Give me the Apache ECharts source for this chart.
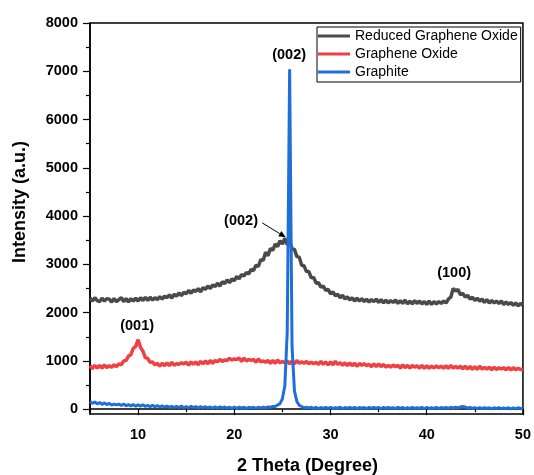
<!DOCTYPE html>
<html><head><meta charset="utf-8">
<script src="https://cdn.jsdelivr.net/npm/echarts@6/dist/echarts.min.js"></script>
<style>html,body{margin:0;padding:0;background:#fff}#c{width:534px;height:475px}</style>
</head><body><div id="c"></div>
<script>
// 2θ sampling: 5.00 to 50.00 in 0.25° steps
const thetaStart = 5, thetaStep = 0.25;

const seriesNames = ['Reduced Graphene Oxide', 'Graphene Oxide', 'Graphite'];

const rgo = [
  2300,2240,2310,2250, 2230,2300,2240,2290, 2280,2220,2290,2230, 2270,2310,2230,2290,
  2220,2290,2240,2300, 2240,2310,2250,2320, 2250,2320,2260,2310, 2270,2330,2280,2340,
  2310,2370,2300,2380, 2340,2410,2350,2420, 2390,2460,2400,2470, 2440,2500,2430,2520,
  2480,2550,2500,2570, 2540,2610,2550,2640, 2600,2680,2620,2700, 2660,2750,2700,2790,
  2760,2830,2800,2900, 2870,2980,2960,3100, 3080,3250,3180,3330, 3290,3420,3370,3490,
  3420,3540,3410,3500, 3320,3310,3160,3150, 2980,2970,2850,2850, 2720,2730,2610,2620,
  2530,2550,2460,2480, 2390,2430,2350,2380, 2310,2360,2280,2330, 2260,2310,2240,2300,
  2240,2290,2230,2280, 2220,2270,2230,2280, 2210,2270,2200,2260, 2200,2250,2210,2260,
  2190,2250,2190,2260, 2180,2240,2180,2250, 2190,2240,2180,2230, 2170,2240,2170,2230,
  2180,2230,2190,2240, 2200,2280,2320,2500, 2450,2480,2370,2400, 2320,2360,2280,2320,
  2250,2300,2240,2280, 2210,2270,2200,2250, 2200,2240,2190,2240, 2170,2220,2170,2210,
  2150,2200,2140,2190, 2150
];

const go = [
  900,840,910,850, 910,850,920,860, 900,870,920,880, 940,920,1000,1010,
  1100,1130,1260,1300, 1440,1280,1200,1070, 1050,970,980,920, 950,890,950,900,
  960,900,970,910, 940,930,960,940, 970,910,980,930, 980,920,990,940,
  1000,940,1010,950, 1010,980,1030,990, 1020,1010,1050,1020, 1040,1030,1060,990,
  1060,1000,1030,1010, 1030,970,1040,980, 1000,970,1010,950, 1010,950,1020,960,
  990,960,1000,940, 1000,940,1010,950, 980,950,990,940, 970,940,970,930,
  990,930,980,920, 980,920,990,930, 960,910,960,900, 960,900,950,890,
  945,910,940,900, 930,880,940,880, 940,880,930,870, 910,870,915,880,
  910,850,920,860, 910,850,905,870, 900,850,910,845, 900,850,890,855,
  895,860,890,850, 900,845,905,850, 885,850,890,835, 890,830,885,825,
  880,825,890,830, 865,830,870,815, 870,820,860,830, 860,815,865,810,
  860,815,850,820, 830
];

const graphite = [
  160,120,150,110, 140,100,130,95, 120,85,105,90, 105,75,110,70,
  95,65,95,60, 90,60,90,55, 80,50,80,45, 75,45,70,40,
  65,40,60,35, 60,35,65,30, 55,30,60,35, 55,25,55,30,
  50,25,45,20, 50,20,50,25, 45,20,40,15, 45,15,45,20,
  40,15,40,25, 40,15,40,20, 40,25,45,40, 55,55,85,115,
  220,480,1600,7040, 1300,380,160,80, 55,30,40,20, 40,15,40,10,
  35,15,40,15, 35,15,30,20, 40,10,35,15, 35,15,40,10,
  35,20,35,10, 40,15,35,15, 35,10,40,15, 35,15,30,10,
  40,15,35,10, 35,10,40,15, 30,15,40,10, 35,15,30,10,
  40,10,35,15, 35,15,40,20, 40,25,45,55, 45,20,35,15,
  30,10,35,10, 30,15,30,5, 30,10,35,10, 25,10,30,5,
  30,5,30,10, 20
];

const seriesColors = ['#4a4a4a', '#ef4044', '#1f6fd8'];
const seriesWidths = [3.5, 3.5, 3];

const xMajorTicks = [10, 20, 30, 40, 50];
const xMinorTicks = [5, 15, 25, 35, 45];
const yMajorTicks = [0, 1000, 2000, 3000, 4000, 5000, 6000, 7000, 8000];
const yMinorTicks = [500, 1500, 2500, 3500, 4500, 5500, 6500, 7500];

const annotations = [
  { text: '(002)', x: 25.7, y: 7330 },
  { text: '(002)', x: 20.7, y: 3900 },
  { text: '(001)', x: 9.9, y: 1720 },
  { text: '(100)', x: 42.85, y: 2820 }
];
const arrowFrom = [22.9, 3860], arrowTo = [25.35, 3560];

const toPairs = arr => arr.map((v, i) => [thetaStart + i * thetaStep, v]);
const allData = [rgo, go, graphite];

const chart = echarts.init(document.getElementById('c'), null, { renderer: 'canvas' });
const FONT = 'Liberation Sans, Arial, sans-serif';

const xCommon = { type: 'value', min: 5, max: 50, position: 'bottom', splitLine: { show: false } };
const yCommon = { type: 'value', min: -100, max: 8000, position: 'left', splitLine: { show: false } };

chart.setOption({
  animation: false,
  backgroundColor: '#fff',
  grid: { left: 90, right: 9, top: 23, bottom: 61, show: true, borderColor: '#000', borderWidth: 1.5, backgroundColor: 'transparent' },
  xAxis: [
    Object.assign({}, xCommon, {
      axisLine: { show: true, lineStyle: { color: '#000', width: 1.5 } },
      axisTick: { show: true, inside: false, length: 6, lineStyle: { color: '#000', width: 1.2 }, customValues: xMajorTicks },
      axisLabel: { show: true, margin: 13, color: '#000', fontFamily: FONT, fontWeight: 'bold', fontSize: 14.5, customValues: xMajorTicks, formatter: v => String(v) }
    }),
    Object.assign({}, xCommon, {
      axisLine: { show: false },
      axisTick: { show: true, inside: false, length: 3, lineStyle: { color: '#000', width: 1.2 }, customValues: xMinorTicks },
      axisLabel: { show: false }
    })
  ],
  yAxis: [
    Object.assign({}, yCommon, {
      axisLine: { show: true, lineStyle: { color: '#000', width: 1.5 } },
      axisTick: { show: true, inside: false, length: 7, lineStyle: { color: '#000', width: 1.2 }, customValues: yMajorTicks },
      axisLabel: { show: true, margin: 12, color: '#000', fontFamily: FONT, fontWeight: 'bold', fontSize: 14.5, customValues: yMajorTicks, formatter: v => String(v) }
    }),
    Object.assign({}, yCommon, {
      axisLine: { show: false },
      axisTick: { show: true, inside: false, length: 4, lineStyle: { color: '#000', width: 1.2 }, customValues: yMinorTicks },
      axisLabel: { show: false }
    })
  ],
  legend: {
    orient: 'vertical', left: 317, top: 27,
    padding: [2, 3, 3, 1], itemGap: 4,
    itemWidth: 32, itemHeight: 3, icon: 'rect',
    borderColor: '#000', borderWidth: 1, backgroundColor: '#fff',
    textStyle: { fontFamily: FONT, fontSize: 14, color: '#000' },
    data: seriesNames
  },
  series: seriesNames.map((name, k) => ({
    name, type: 'line', xAxisIndex: 0, yAxisIndex: 0,
    data: toPairs(allData[k]),
    showSymbol: false, symbol: 'none',
    lineStyle: { color: seriesColors[k], width: seriesWidths[k] },
    itemStyle: { color: seriesColors[k] },
    z: 2 + k
  }))
});

function drawGraphics() {
  const els = annotations.map(a => {
    const p = chart.convertToPixel({ xAxisIndex: 0, yAxisIndex: 0 }, [a.x, a.y]);
    return { type: 'text', x: p[0], y: p[1], z: 100,
      style: { text: a.text, fontFamily: FONT, fontWeight: 'bold', fontSize: 14.5, fill: '#000', align: 'center', verticalAlign: 'middle' } };
  });
  const p1 = chart.convertToPixel({ xAxisIndex: 0, yAxisIndex: 0 }, arrowFrom);
  const p2 = chart.convertToPixel({ xAxisIndex: 0, yAxisIndex: 0 }, arrowTo);
  const ang = Math.atan2(p2[1] - p1[1], p2[0] - p1[0]);
  const hl = 7, hw = 3;
  const bx = p2[0] - hl * Math.cos(ang), by = p2[1] - hl * Math.sin(ang);
  els.push({ type: 'line', z: 100, shape: { x1: p1[0], y1: p1[1], x2: bx, y2: by }, style: { stroke: '#000', lineWidth: 1 } });
  els.push({ type: 'polygon', z: 100, shape: { points: [
    [p2[0], p2[1]],
    [bx + hw * Math.sin(ang), by - hw * Math.cos(ang)],
    [bx - hw * Math.sin(ang), by + hw * Math.cos(ang)]
  ] }, style: { fill: '#000' } });
  els.push({ type: 'text', x: 307.5, y: 466, z: 100,
    style: { text: '2 Theta (Degree)', fontFamily: FONT, fontWeight: 'bold', fontSize: 18, fill: '#000', align: 'center', verticalAlign: 'middle' } });
  els.push({ type: 'text', x: 20, y: 202, rotation: Math.PI / 2, z: 100,
    style: { text: 'Intensity (a.u.)', fontFamily: FONT, fontWeight: 'bold', fontSize: 18, fill: '#000', align: 'center', verticalAlign: 'middle' } });
  chart.setOption({ graphic: els });
}
drawGraphics();
</script>
</body></html>
